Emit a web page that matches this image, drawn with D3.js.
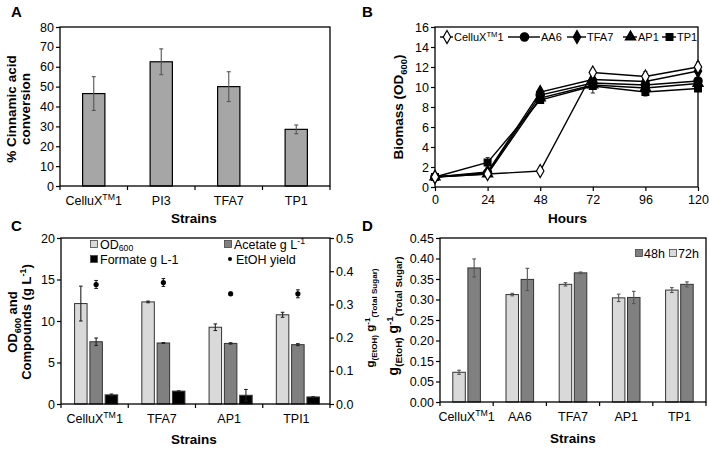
<!DOCTYPE html>
<html><head><meta charset="utf-8">
<script src="https://cdn.jsdelivr.net/npm/d3@7"></script>
<style>
body{margin:0;background:#fff;}
svg{display:block;font-family:"Liberation Sans",Arial,sans-serif;}
</style></head>
<body><svg id="c" width="709" height="449"></svg>
<script>
// ---------- DATA ----------
// Panel A
const strainsA = ["CelluX^{TM}1", "PI3", "TFA7", "TP1"];
const cinnamicConv = [46.5, 62.5, 50, 28.5];
const cinnamicErr = [8.5, 6.5, 7.5, 2.2];
const ticksA = [0, 10, 20, 30, 40, 50, 60, 70, 80];

// Panel B
const hours = [0, 24, 48, 72, 96, 120];
const seriesB = ["CelluX^{TM}1", "AA6", "TFA7", "AP1", "TP1"];
const bCellux = [1.0, 1.3, 1.6, 11.45, 11.05, 12.0];
const bAA6 = [1.0, 1.4, 9.2, 10.4, 10.2, 10.6];
const bTFA7 = [1.0, 1.5, 9.5, 10.75, 10.55, 11.6];
const bAP1 = [1.0, 1.3, 8.9, 10.2, 9.9, 10.35];
const bTP1 = [1.0, 2.45, 8.7, 10.1, 9.5, 9.85];
const errCellux = [0.1, 0.15, 0.2, 0.3, 0.5, 0.5];
const errAA6 = [0.1, 0.15, 0.2, 0.3, 0.3, 0.3];
const errTFA7 = [0.1, 0.15, 0.2, 0.3, 0.3, 0.4];
const errAP1 = [0.1, 0.15, 0.2, 0.4, 0.3, 0.3];
const errTP1 = [0.1, 0.5, 0.2, 0.7, 0.4, 0.3];
const ticksBy = [0, 2, 4, 6, 8, 10, 12, 14, 16];

// Panel C
const strainsC = ["CelluX^{TM}1", "TFA7", "AP1", "TPI1"];
const od600 = [12.1, 12.3, 9.25, 10.75];
const od600Err = [2.1, 0.1, 0.4, 0.3];
const acetate = [7.5, 7.35, 7.3, 7.15];
const acetateErr = [0.45, 0.05, 0.08, 0.12];
const formate = [1.1, 1.55, 1.05, 0.85];
const formateErr = [0.1, 0.03, 0.7, 0.02];
const etohYield = [0.36, 0.366, 0.332, 0.332];
const etohErr = [0.012, 0.012, 0.005, 0.012];
const ticksCl = [0, 5, 10, 15, 20];
const ticksCr = [0, 0.1, 0.2, 0.3, 0.4, 0.5];

// Panel D
const strainsD = ["CelluX^{TM}1", "AA6", "TFA7", "AP1", "TP1"];
const yield72 = [0.095, 0.312, 0.337, 0.304, 0.323];
const yield72Err = [0.01, 0.003, 0.004, 0.009, 0.006];
const yield48 = [0.377, 0.349, 0.365, 0.305, 0.337];
const yield48Err = [0.022, 0.027, 0.002, 0.015, 0.006];
const ticksD = [0, 0.05, 0.15, 0.20, 0.25, 0.30, 0.35, 0.40, 0.45];

// ---------- HELPERS ----------
const svg = d3.select("#c");
const FS = 12.5;

function rich(t, str, fs, subOff) {
  const sOff = subOff === undefined ? 0.3 : subOff;
  const parts = str.split(/(\^\{[^}]*\}|_\{[^}]*\})/).filter(s => s.length);
  let cur = 0;
  parts.forEach(p => {
    const ts = t.append("tspan");
    let o = 0, txt = p;
    if (p.startsWith("^{")) { o = -fs * 0.38; txt = p.slice(2, -1); ts.attr("font-size", fs * 0.7); }
    else if (p.startsWith("_{")) { o = fs * sOff; txt = p.slice(2, -1); ts.attr("font-size", fs * 0.7); }
    ts.attr("dy", o - cur).text(txt);
    cur = o;
  });
  return t;
}

function frame(g, x0, x1, y0, y1) {
  g.append("rect").attr("x", x0).attr("y", y0).attr("width", x1 - x0).attr("height", y1 - y0)
    .attr("fill", "none").attr("stroke", "#000").attr("stroke-width", 1.3);
}

function yAxisLeft(g, y, ticks, x0, fmt) {
  const ax = d3.axisLeft(y).tickValues(ticks).tickSize(4).tickPadding(2).tickFormat(fmt);
  const a = g.append("g").attr("transform", `translate(${x0},0)`).call(ax);
  a.select(".domain").remove();
  a.selectAll("line").attr("stroke", "#000").attr("stroke-width", 1.2);
  a.selectAll("text").attr("font-size", FS).attr("fill", "#000").attr("font-family", "Liberation Sans, Arial");
  return a;
}

function catAxis(g, x, cats, y0, labelY) {
  const [r0, r1] = x.range();
  const bounds = d3.range(cats.length + 1).map(i => r0 + i * (r1 - r0) / cats.length);
  g.selectAll(null).data(bounds).join("line")
    .attr("x1", d => d).attr("x2", d => d).attr("y1", y0).attr("y2", y0 + 4)
    .attr("stroke", "#000").attr("stroke-width", 1.2);
  cats.forEach(c => {
    const t = g.append("text").attr("x", x(c) + x.bandwidth() / 2).attr("y", labelY)
      .attr("text-anchor", "middle").attr("font-size", FS);
    rich(t, c, FS);
  });
}

function errBar(g, cx, yTop, yBot, color, cap) {
  g.append("line").attr("x1", cx).attr("x2", cx).attr("y1", yTop).attr("y2", yBot)
    .attr("stroke", color).attr("stroke-width", 1.1);
  [yTop, yBot].forEach(yy => g.append("line").attr("x1", cx - cap).attr("x2", cx + cap)
    .attr("y1", yy).attr("y2", yy).attr("stroke", color).attr("stroke-width", 1.1));
}

function panelLetter(x, y, s) {
  svg.append("text").attr("x", x).attr("y", y).attr("font-size", 15).attr("font-weight", "bold").text(s);
}

function rotTitle(x, y, str, fs) {
  const t = svg.append("text").attr("transform", `translate(${x},${y}) rotate(-90)`)
    .attr("text-anchor", "middle").attr("font-size", fs).attr("font-weight", "bold");
  rich(t, str, fs);
}

function xTitle(x, y, s) {
  svg.append("text").attr("x", x).attr("y", y).attr("text-anchor", "middle").attr("font-size", 13.5)
    .attr("font-weight", "bold").text(s);
}

// ---------- PANEL A ----------
{
  const L = 60, R = 330, T = 27, B = 186;
  const g = svg.append("g");
  const x = d3.scaleBand().domain(strainsA).range([L, R]).paddingInner(0.67).paddingOuter(0.335);
  const y = d3.scaleLinear().domain([0, 80]).range([B, T]);
  strainsA.forEach((c, i) => {
    g.append("rect").attr("x", x(c)).attr("y", y(cinnamicConv[i])).attr("width", x.bandwidth())
      .attr("height", y(0) - y(cinnamicConv[i])).attr("fill", "#a6a6a6").attr("stroke", "#000").attr("stroke-width", 1.2);
    errBar(g, x(c) + x.bandwidth() / 2, y(cinnamicConv[i] + cinnamicErr[i]), y(cinnamicConv[i] - cinnamicErr[i]), "#555", 2);
  });
  const xb = d3.scaleBand().domain(strainsA).range([L, R]);
  frame(g, L, R, T, B);
  yAxisLeft(g, y, ticksA, L, d3.format("d"));
  catAxis(g, xb, strainsA, B, 205);
  xTitle(194, 223, "Strains");
  rotTitle(16, 109, "% Cinnamic acid", 13.5);
  rotTitle(30, 109, "conversion", 13.5);
  panelLetter(11, 17, "A");
}

// ---------- PANEL B ----------
{
  const L = 435, R = 698, T = 27, B = 187;
  const g = svg.append("g");
  const x = d3.scaleLinear().domain([0, 120]).range([L, R]);
  const y = d3.scaleLinear().domain([0, 16]).range([B, T]);
  frame(g, L, R, T, B);
  yAxisLeft(g, y, ticksBy, L, d3.format("d"));
  const xa = g.append("g").attr("transform", `translate(0,${B})`)
    .call(d3.axisBottom(x).tickValues(hours).tickSize(4).tickPadding(4));
  xa.select(".domain").remove();
  xa.selectAll("line").attr("stroke", "#000").attr("stroke-width", 1.2);
  xa.selectAll("text").attr("font-size", FS).attr("fill", "#000").attr("font-family", "Liberation Sans, Arial");
  xTitle((L + R) / 2 + 1, 223, "Hours");
  rotTitle(403, 107, "Biomass (OD_{600})", 13.5);
  panelLetter(362, 17, "B");

  const vals = [bCellux, bAA6, bTFA7, bAP1, bTP1];
  const errs = [errCellux, errAA6, errTFA7, errAP1, errTP1];
  const shapes = [
    { sym: d3.symbolDiamond, size: 48, fill: "#fff" },
    { sym: d3.symbolCircle, size: 55, fill: "#000" },
    { sym: d3.symbolDiamond, size: 48, fill: "#000" },
    { sym: d3.symbolTriangle, size: 46, fill: "#000" },
    { sym: d3.symbolSquare, size: 46, fill: "#000" }
  ];
  const line = d3.line().x((d, i) => x(hours[i])).y(d => y(d));
  for (let k = vals.length - 1; k >= 0; k--) {
    vals[k].forEach((v, i) => errBar(g, x(hours[i]), y(v + errs[k][i]), y(v - errs[k][i]), "#333", 2));
  }
  for (let k = vals.length - 1; k >= 0; k--) {
    g.append("path").attr("d", line(vals[k])).attr("fill", "none").attr("stroke", "#000").attr("stroke-width", 1.4);
  }
  for (let k = vals.length - 1; k >= 0; k--) {
    const s = shapes[k];
    vals[k].forEach((v, i) => g.append("path").attr("d", d3.symbol(s.sym, s.size)())
      .attr("transform", `translate(${x(hours[i])},${y(v)})`).attr("fill", s.fill).attr("stroke", "#000").attr("stroke-width", 1.2));
  }
  // legend (layout positions)
  const legStart = [440, 508, 567, 623, 662];
  const legText = [454, 541, 587, 638, 677];
  const ly = 37;
  seriesB.forEach((name, k) => {
    const s = shapes[k];
    g.append("line").attr("x1", legStart[k]).attr("x2", legText[k] - 1).attr("y1", ly).attr("y2", ly).attr("stroke", "#000").attr("stroke-width", 1.4);
    g.append("path").attr("d", d3.symbol(s.sym, s.size)()).attr("transform", `translate(${(legStart[k] + legText[k]) / 2},${ly})`)
      .attr("fill", s.fill).attr("stroke", "#000").attr("stroke-width", 1.2);
    const t = g.append("text").attr("x", legText[k]).attr("y", ly + 4).attr("font-size", 11);
    rich(t, name, 11);
  });
}

// ---------- PANEL C ----------
{
  const L = 61, R = 330, T = 238, B = 404;
  const g = svg.append("g");
  const xb = d3.scaleBand().domain(strainsC).range([L, R]);
  const y = d3.scaleLinear().domain([0, 20]).range([B, T]);
  const yr = d3.scaleLinear().domain([0, 0.5]).range([B, T]);
  const bw = 12.5, gap = 2.8;
  const sets = [
    { v: od600, e: od600Err, fill: "#d9d9d9" },
    { v: acetate, e: acetateErr, fill: "#808080" },
    { v: formate, e: formateErr, fill: "#000" }
  ];
  strainsC.forEach((c, i) => {
    const cx = xb(c) + xb.bandwidth() / 2 + 1.5;
    sets.forEach((s, k) => {
      const bx = cx + (k - 1) * (bw + gap) - bw / 2;
      g.append("rect").attr("x", bx).attr("y", y(s.v[i])).attr("width", bw).attr("height", y(0) - y(s.v[i]))
        .attr("fill", s.fill).attr("stroke", "#333").attr("stroke-width", 1);
      errBar(g, bx + bw / 2, y(s.v[i] + s.e[i]), y(s.v[i] - s.e[i]), "#222", 1.8);
    });
    errBar(g, cx, yr(etohYield[i] + etohErr[i]), yr(etohYield[i] - etohErr[i]), "#222", 1.8);
    g.append("circle").attr("cx", cx).attr("cy", yr(etohYield[i])).attr("r", 2.6).attr("fill", "#000");
  });
  frame(g, L, R, T, B);
  yAxisLeft(g, y, ticksCl, L, d3.format("d"));
  const ra = g.append("g").attr("transform", `translate(${R},0)`)
    .call(d3.axisRight(yr).tickValues(ticksCr).tickSize(4).tickPadding(2).tickFormat(d3.format(".1f")));
  ra.select(".domain").remove();
  ra.selectAll("line").attr("stroke", "#000").attr("stroke-width", 1.2);
  ra.selectAll("text").attr("font-size", FS).attr("fill", "#000").attr("font-family", "Liberation Sans, Arial");
  catAxis(g, xb, strainsC, B, 423);
  xTitle(194, 444, "Strains");
  rotTitle(17, 322, "OD_{600} and", 13);
  rotTitle(31, 322, "Compounds (g L^{-1})", 13);
  rotTitle(374, 318, "g_{(EtOH)} g^{-1}_{(Total Sugar)}", 11.5);
  panelLetter(11, 231, "C");
  const leg = [
    { x: 94, y: 244, fill: "#d9d9d9", label: "OD_{600}" },
    { x: 94, y: 259, fill: "#000", label: "Formate g L-1" },
    { x: 228, y: 244, fill: "#808080", label: "Acetate g L^{-1}" }
  ];
  leg.forEach(l => {
    g.append("rect").attr("x", l.x - 3.5).attr("y", l.y - 3.5).attr("width", 7).attr("height", 7)
      .attr("fill", l.fill).attr("stroke", "#444").attr("stroke-width", 0.8);
    const t = g.append("text").attr("x", l.x + 6).attr("y", l.y + 4.5).attr("font-size", 12.5);
    rich(t, l.label, 12.5, 0.18);
  });
  g.append("circle").attr("cx", 230).attr("cy", 259).attr("r", 2).attr("fill", "#000");
  g.append("text").attr("x", 236).attr("y", 263.5).attr("font-size", 12.5).text("EtOH yield");
}

// ---------- PANEL D ----------
{
  const L = 440, R = 706, T = 238, B = 402;
  const g = svg.append("g");
  const xb = d3.scaleBand().domain(strainsD).range([L, R]);
  const step = (B - T) / 8;
  // printed axis: labels evenly spaced with 0.10 absent -> piecewise-linear scale
  const y = d3.scaleLinear().domain([0, 0.05, 0.15, 0.45]).range([B, B - step, B - 2 * step, T]);
  const bw = 12.5, gap = 2.6;
  const sets = [
    { v: yield72, e: yield72Err, fill: "#d9d9d9" },
    { v: yield48, e: yield48Err, fill: "#808080" }
  ];
  strainsD.forEach((c, i) => {
    const cx = xb(c) + xb.bandwidth() / 2;
    sets.forEach((s, k) => {
      const bx = k === 0 ? cx - gap / 2 - bw : cx + gap / 2;
      g.append("rect").attr("x", bx).attr("y", y(s.v[i])).attr("width", bw).attr("height", y(0) - y(s.v[i]))
        .attr("fill", s.fill).attr("stroke", "#333").attr("stroke-width", 1);
      errBar(g, bx + bw / 2, y(s.v[i] + s.e[i]), y(s.v[i] - s.e[i]), "#555", 1.8);
    });
  });
  frame(g, L, R, T, B);
  yAxisLeft(g, y, ticksD, L, d3.format(".2f"));
  catAxis(g, xb, strainsD, B, 421);
  xTitle((L + R) / 2, 443, "Strains");
  rotTitle(398, 316, "g_{(EtoH)} g^{-1}_{(Total Sugar)}", 14);
  panelLetter(362, 231, "D");
  const leg = [{ x: 639, fill: "#808080", label: "48h" }, { x: 673, fill: "#d9d9d9", label: "72h" }];
  leg.forEach(l => {
    g.append("rect").attr("x", l.x - 3.5).attr("y", 249.5).attr("width", 7).attr("height", 7)
      .attr("fill", l.fill).attr("stroke", "#444").attr("stroke-width", 0.8);
    g.append("text").attr("x", l.x + 5).attr("y", 257.5).attr("font-size", 12.5).text(l.label);
  });
}
</script></body></html>
